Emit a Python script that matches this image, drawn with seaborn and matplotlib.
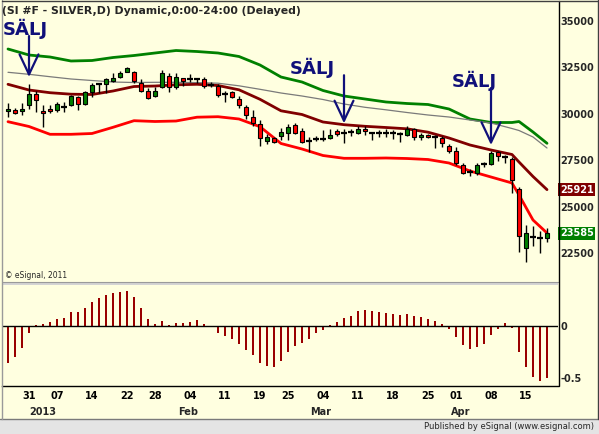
import numpy as np
import pandas as pd
import matplotlib
matplotlib.use("Agg")
import matplotlib.pyplot as plt
import matplotlib.transforms as mtransforms
from matplotlib.patches import Rectangle
from matplotlib.lines import Line2D
import seaborn as sns

# --- daily OHLC (SI #F, 26 Dec 2012 .. 18 Apr 2013) ---
opens = [30131, 30185, 30131, 30453, 31060, 30147, 30254, 30217, 30370, 30453,
         30883, 30507, 31152, 31598, 31598, 31775, 31990, 32259, 32259, 31668,
         31222, 30937, 31453, 32012, 31453, 31904, 31867, 31867, 31850, 31544,
         31490, 31060, 31152, 30792, 30346, 29824, 29432, 28551, 28680, 28819,
         28981, 29394, 29056, 28551, 28658, 28658, 28712, 29072, 28948, 29002,
         28981, 29180, 28948, 28948, 28948, 28948, 28895, 28873, 29163, 28733,
         28857, 28766, 28680, 28266, 27981, 27229, 26885, 26831, 27299, 27299,
         27944, 27675, 27583, 25939, 22768, 23359, 23322, 23306]
highs = [30593, 30292, 30561, 31598, 31222, 30453, 30453, 30631, 30631, 31007,
         30953, 31238, 31668, 31610, 31936, 32205, 32313, 32528, 32296, 31850,
         31367, 31453, 32350, 32173, 32205, 31936, 32135, 31904, 31958, 31689,
         31598, 31238, 31238, 30969, 30453, 30201, 29663, 28895, 28766, 29217,
         29448, 29486, 29217, 28766, 28803, 29126, 29163, 29163, 29163, 29163,
         29341, 29341, 28981, 29126, 29163, 29126, 29018, 29325, 29217, 28981,
         28911, 28857, 28803, 28373, 28196, 27336, 27014, 27368, 27422, 27997,
         28013, 27782, 27659, 26047, 24020, 23967, 23714, 23875]
lows = [29808, 29986, 29948, 30254, 30093, 29303, 30023, 30093, 30093, 30416,
        30201, 30453, 30915, 31130, 31114, 31721, 31936, 32227, 31668, 31184,
        30792, 30883, 31367, 31184, 31350, 31490, 31721, 31668, 31367, 31420,
        30883, 30647, 30862, 30292, 29733, 29341, 28282, 28357, 28411, 28588,
        28588, 28911, 28411, 27960, 28551, 28551, 28658, 28819, 28411, 28819,
        28895, 28857, 28588, 28766, 28766, 28642, 28465, 28819, 28588, 28588,
        28680, 28142, 28228, 27874, 27245, 26745, 26654, 26691, 27154, 27229,
        27476, 27336, 25756, 22586, 22048, 22892, 22500, 23123]
closes = [30254, 30023, 30254, 31044, 30754, 30023, 30131, 30523, 30370, 30937,
          30507, 31168, 31544, 31598, 31867, 31936, 32173, 32442, 31775, 31238,
          30829, 31222, 32173, 31420, 31974, 31775, 31867, 31867, 31490, 31544,
          31007, 31060, 30915, 30453, 29916, 29486, 28680, 28733, 28481, 29018,
          29271, 28981, 28481, 28551, 28658, 28658, 28857, 28895, 28948, 29002,
          29180, 29056, 28948, 28948, 28948, 28948, 28895, 29196, 28766, 28857,
          28733, 28766, 28411, 28013, 27336, 26831, 26885, 27229, 27299, 27906,
          27729, 27675, 26439, 23429, 23607, 23359, 23322, 23585]

# --- dynamic bands (read every third bar) ---
band_idx = [0, 3, 6, 9, 12, 15, 18, 21, 24, 27, 30, 33, 36, 39, 42, 45, 48, 51,
            54, 57, 60, 63, 66, 69, 72, 73, 75, 77]
upper_band = [33479, 33156, 33049, 32834, 32861, 33022, 33129, 33264, 33398, 33344,
              33264, 33076, 32619, 31974, 31705, 31249, 30953, 30792, 30631, 30550,
              30496, 30254, 29717, 29529, 29529, 29582, 29018, 28411]
mid_band = [32227, 32119, 31990, 31867, 31786, 31705, 31678, 31689, 31689, 31673,
            31641, 31501, 31313, 31114, 30953, 30765, 30523, 30346, 30211, 30066,
            29932, 29824, 29663, 29502, 29206, 29099, 28750, 28158]
avg_band = [31582, 31275, 31130, 31050, 31034, 31222, 31463, 31490, 31555, 31582,
            31517, 31286, 30776, 30158, 29959, 29556, 29411, 29325, 29260, 29190,
            29008, 28696, 28320, 28051, 27809, 27406, 26627, 25921]
lower_band = [29572, 29314, 28895, 28895, 28938, 29271, 29626, 29583, 29609, 29814,
              29840, 29717, 29303, 28400, 28105, 27755, 27605, 27605, 27621, 27594,
              27540, 27352, 26922, 26600, 26278, 25633, 24289, 23591]

# --- oscillator histogram ---
osc = [-0.355, -0.297, -0.21, -0.071, 0.013, 0.019, 0.039, 0.068, 0.077, 0.135,
       0.135, 0.174, 0.232, 0.271, 0.30, 0.319, 0.329, 0.339, 0.281, 0.174,
       0.068, 0.019, 0.048, 0.01, 0.029, 0.029, 0.039, 0.058, 0.019, 0.003,
       -0.065, -0.094, -0.126, -0.171, -0.232, -0.281, -0.355, -0.384, -0.394, -0.335,
       -0.248, -0.19, -0.161, -0.123, -0.071, -0.039, 0.01, 0.039, 0.077, 0.097,
       0.145, 0.155, 0.145, 0.135, 0.126, 0.116, 0.106, 0.116, 0.097, 0.087,
       0.068, 0.048, 0.019, -0.026, -0.103, -0.181, -0.219, -0.2, -0.171, -0.084,
       -0.026, 0.029, -0.016, -0.255, -0.394, -0.49, -0.529, -0.503]

# --- sell signals ---
sell_idx = [3, 48, 69]
sell_tip = [31974, 29486, 28320]

# --- axis labels ---
price_ticks = [22500, 25000, 27500, 30000, 32500, 35000]
day_idx = [3, 7, 12, 17, 21, 26, 31, 36, 40, 45, 50, 55, 60, 64, 69, 74]
day_labels = ["31", "07", "14", "22", "28", "04", "11", "19", "25",
              "04", "11", "18", "25", "01", "08", "15"]
month_labels = ["2013", "Feb", "Mar", "Apr"]
month_pos = [5.0, 25.7, 44.7, 64.7]

bg = "#FFFFE0"
navy = "#10107a"
sns.set_style("white")
plt.rcParams["font.family"] = ["DejaVu Sans"]

W, H = 599, 434
fig = plt.figure(figsize=(W / 100, H / 100), dpi=100, facecolor=bg)


def fx(px):
    return px / W


def fy(py):
    return 1 - py / H


ax = fig.add_axes([fx(2), fy(282), fx(556), 280 / H], facecolor=bg)
ax2 = fig.add_axes([fx(2), fy(386), fx(556), 101 / H], facecolor=bg)
xlim = (-6 / 7, 550 / 7)

# === price panel ===
bands = pd.DataFrame({"idx": band_idx, "upper": upper_band, "mid": mid_band,
                      "avg": avg_band, "lower": lower_band})
sns.lineplot(data=bands, x="idx", y="upper", ax=ax, color="#008000", lw=2, zorder=2)
sns.lineplot(data=bands, x="idx", y="mid", ax=ax, color="#7a7a7a", lw=0.9, zorder=2)
sns.lineplot(data=bands, x="idx", y="avg", ax=ax, color="#800000", lw=2, zorder=2)
sns.lineplot(data=bands, x="idx", y="lower", ax=ax, color="#ff0000", lw=2, zorder=2)

o, h, l, c = (np.array(v, dtype=float) for v in (opens, highs, lows, closes))
x = np.arange(len(o))
up, dn, flat = c > o, c < o, c == o
ax.vlines(x, l, h, color="black", lw=1, zorder=3)
ax.bar(x[up], (c - o)[up], bottom=o[up], width=0.62, color="#008000",
       edgecolor="black", lw=0.8, zorder=4)
ax.bar(x[dn], (o - c)[dn], bottom=c[dn], width=0.62, color="#ff0000",
       edgecolor="black", lw=0.8, zorder=4)
ax.hlines(o[flat], x[flat] - 0.36, x[flat] + 0.36, color="black", lw=1.6, zorder=4)

ax.set_xlim(*xlim)
ax.set_ylim(20957, 36005)
ax.set_xlabel("")
ax.set_ylabel("")
ax.set_xticks([])
ax.yaxis.tick_right()
ax.set_yticks(price_ticks, labels=[str(t) for t in price_ticks],
              fontsize=7, fontweight="bold")
ax.tick_params(axis="y", length=0, pad=1.5)
for s in ax.spines.values():
    s.set_visible(False)

# sell arrows
arrow_len = [29.5, 34.6, 41.0]
text_dx = [-2.9, -22.8, -12.2]
for i, tip, L, dx in zip(sell_idx, sell_tip, arrow_len, text_dx):
    ax.annotate("", xy=(i, tip), xytext=(0, L), textcoords="offset points",
                arrowprops=dict(arrowstyle="->,head_length=1.44,head_width=0.68",
                                mutation_scale=10, color=navy, lw=1.6,
                                shrinkA=0, shrinkB=0), zorder=6)
    ax.annotate("SÄLJ", xy=(i, tip), xytext=(dx, L + 1), textcoords="offset points",
                ha="center", va="baseline", fontsize=13, fontweight="bold",
                color=navy, zorder=6)

# last value boxes
tr = mtransforms.blended_transform_factory(ax.transAxes, ax.transData)
ax.text(1.0035, avg_band[-1], f"{avg_band[-1]:.0f}", transform=tr, color="white",
        fontsize=7, fontweight="bold", ha="left", va="center", clip_on=False,
        bbox=dict(boxstyle="square,pad=0.15", fc="#800000", ec="none"))
ax.text(1.0035, closes[-1], f"{closes[-1]:.0f}", transform=tr, color="white",
        fontsize=7, fontweight="bold", ha="left", va="center", clip_on=False,
        bbox=dict(boxstyle="square,pad=0.15", fc="#008000", ec="none"))

# === oscillator panel ===
ax2.bar(x, osc, width=2 / 7, color="#990000", lw=0, antialiased=False, zorder=2)
ax2.axhline(0, color="black", lw=1, zorder=3)
ax2.set_xlim(*xlim)
ax2.set_ylim(-0.580, 0.3965)
ax2.yaxis.tick_right()
ax2.set_yticks([-0.5, 0], labels=["-0.5", "0"], fontsize=7, fontweight="bold")
ax2.tick_params(axis="y", length=0, pad=1.5)
ax2.set_xticks(day_idx, labels=day_labels, fontsize=7, fontweight="bold")
ax2.tick_params(axis="x", length=2, width=1, pad=1.5, direction="out", colors="black")
for name, s in ax2.spines.items():
    s.set_visible(name == "bottom")
ax2.spines["bottom"].set_color("black")
ax2.spines["bottom"].set_linewidth(1)
trm = mtransforms.blended_transform_factory(ax2.transData, ax2.transAxes)
for lab, pos in zip(month_labels, month_pos):
    ax2.text(pos, -0.2525, lab, transform=trm, ha="center", va="center",
             fontsize=7, fontweight="bold", clip_on=False)

# === frame and decorations ===
fig.add_artist(Rectangle((0, 0), 1, fy(418.5), transform=fig.transFigure,
                         fc="#E4E4E4", ec="none", zorder=0))
fig.add_artist(Line2D([0, 1], [fy(418.5)] * 2, color="#7a7a7a", lw=1))
fig.add_artist(Rectangle((fx(2), fy(285)), fx(556), 3.5 / H, transform=fig.transFigure,
                         fc="#D4D4D4", ec="none"))
fig.add_artist(Line2D([fx(2), fx(558)], [fy(281.5)] * 2, color="#9a9a9a", lw=0.8))
fig.add_artist(Line2D([fx(558.5)] * 2, [fy(1), fy(386)], color="black", lw=1))
fig.add_artist(Line2D([fx(2)] * 2, [fy(0), fy(418.5)], color="#9a9a9a", lw=1))
fig.add_artist(Line2D([fx(597.5)] * 2, [fy(0), fy(418.5)], color="#404040", lw=1))
fig.add_artist(Line2D([fx(2), fx(597.5)], [fy(0.8)] * 2, color="#404040", lw=1))

fig.text(fx(2), fy(11), "(SI #F - SILVER,D) Dynamic,0:00-24:00 (Delayed)",
         ha="left", va="center", fontsize=7.8, fontweight="bold")
fig.text(fx(5), fy(275.5), "\u00a9 eSignal, 2011", ha="left", va="center", fontsize=5.5)
fig.text(fx(594), fy(426.5), "Published by eSignal (www.esignal.com)",
         ha="right", va="center", fontsize=6)

fig.savefig("out.png", dpi=100, facecolor=bg)
